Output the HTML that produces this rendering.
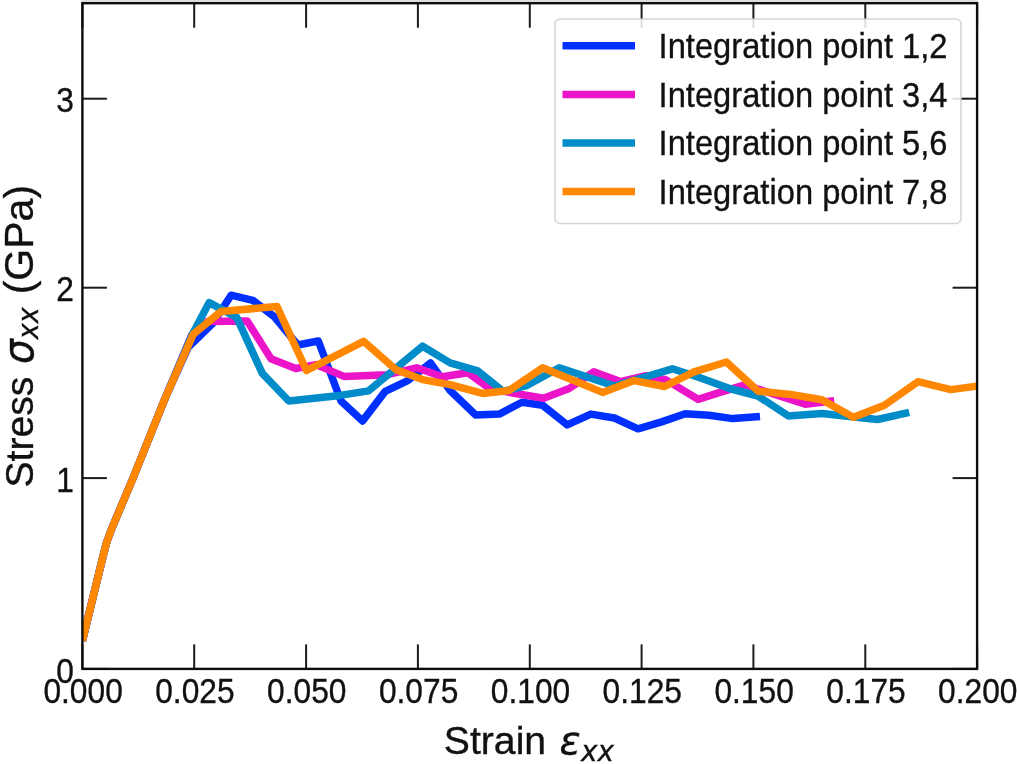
<!DOCTYPE html>
<html><head><meta charset="utf-8"><title>Stress-strain</title>
<style>
html,body{margin:0;padding:0;background:#fff;}
body{width:1017px;height:764px;overflow:hidden;}
svg{display:block;}
text{font-family:"Liberation Sans",sans-serif;fill:#111;stroke:#111;stroke-width:0.35px;}
.tk{font-size:35.9px;}
.lb{font-size:39.2px;}
.lg{font-size:35px;}
.m{font-family:"DejaVu Sans",sans-serif;font-style:italic;}
</style></head><body>
<svg width="1017" height="764" viewBox="0 0 1017 764">
<rect x="0" y="0" width="1017" height="764" fill="#fff"/>
<rect x="81.4" y="0" width="896.7" height="3.2" fill="#dddddd"/>
<clipPath id="ax"><rect x="82.4" y="3.2" width="894.7" height="665.7"/></clipPath>
<g clip-path="url(#ax)" fill="none" stroke-width="7.5" stroke-linejoin="round" stroke-linecap="butt">
<polyline stroke="#0030ff" points="82.4,640.8 103.2,555.5 106.6,542.5 111.6,529.0 132.8,478.6 164.4,400.0 188.2,347.2 213.5,322.5 231.1,295.2 252.8,300.3 274.0,316.4 297.7,345.0 318.3,341.0 341.0,401.0 362.6,420.9 385.2,391.4 407.8,380.6 430.5,362.9 450.1,390.5 475.7,415.0 499.3,414.1 521.9,402.3 542.6,405.2 567.2,424.9 590.8,414.1 614.4,418.0 638.0,428.8 661.6,421.9 685.2,413.7 709.0,415.2 732.8,418.6 760.0,416.4"/>
<polyline stroke="#ec14c8" points="82.4,640.8 103.2,555.5 106.6,542.5 111.6,529.0 132.8,478.6 164.4,400.0 191.8,334.8 207.5,321.6 247.2,320.9 271.0,358.7 295.7,368.5 316.0,364.6 343.9,376.4 387.2,374.7 416.7,367.8 442.3,376.7 467.8,372.8 489.5,388.5 517.0,393.8 543.6,398.3 569.2,388.5 593.7,371.8 620.3,381.6 645.9,375.7 665.5,379.6 698.0,399.3 720.0,392.4 744.8,384.8 805.3,404.2 834.2,400.8"/>
<polyline stroke="#008cc8" points="82.4,640.8 103.2,555.5 106.6,542.5 111.6,529.0 132.8,478.6 164.4,400.0 192.0,335.0 209.2,302.6 236.7,317.4 262.3,373.4 288.8,401.0 340.0,395.4 368.5,390.9 422.6,346.2 450.1,362.9 477.7,370.8 503.2,391.4 526.8,385.5 559.3,367.8 614.4,386.0 672.4,368.8 700.0,377.7 729.5,388.5 758.0,396.0 788.3,415.9 821.9,413.4 877.5,419.5 909.2,412.4"/>
<polyline stroke="#ff8800" points="82.4,640.8 103.2,555.5 106.6,542.5 111.6,529.0 132.8,478.6 164.4,400.0 193.4,334.1 221.0,311.5 277.0,306.5 306.5,370.5 363.6,341.3 396.0,369.8 422.6,379.6 450.1,384.6 482.6,393.4 509.1,390.5 542.6,367.8 602.6,392.4 634.1,380.6 664.5,386.5 694.0,371.8 726.4,362.0 758.3,391.2 790.5,394.4 821.9,399.8 853.4,417.3 884.4,405.3 917.9,381.7 950.9,389.6 976.9,386.1"/>
</g>
<g stroke="#1c1c1c" stroke-width="2.0">
<line x1="82.4" y1="668.9" x2="82.4" y2="644.4"/><line x1="82.4" y1="3.2" x2="82.4" y2="27.7"/>
<line x1="194.2" y1="668.9" x2="194.2" y2="644.4"/><line x1="194.2" y1="3.2" x2="194.2" y2="27.7"/>
<line x1="306.1" y1="668.9" x2="306.1" y2="644.4"/><line x1="306.1" y1="3.2" x2="306.1" y2="27.7"/>
<line x1="417.9" y1="668.9" x2="417.9" y2="644.4"/><line x1="417.9" y1="3.2" x2="417.9" y2="27.7"/>
<line x1="529.8" y1="668.9" x2="529.8" y2="644.4"/><line x1="529.8" y1="3.2" x2="529.8" y2="27.7"/>
<line x1="641.6" y1="668.9" x2="641.6" y2="644.4"/><line x1="641.6" y1="3.2" x2="641.6" y2="27.7"/>
<line x1="753.4" y1="668.9" x2="753.4" y2="644.4"/><line x1="753.4" y1="3.2" x2="753.4" y2="27.7"/>
<line x1="865.3" y1="668.9" x2="865.3" y2="644.4"/><line x1="865.3" y1="3.2" x2="865.3" y2="27.7"/>
<line x1="977.1" y1="668.9" x2="977.1" y2="644.4"/><line x1="977.1" y1="3.2" x2="977.1" y2="27.7"/>
<line x1="82.4" y1="668.9" x2="106.9" y2="668.9"/><line x1="977.1" y1="668.9" x2="952.6" y2="668.9"/>
<line x1="82.4" y1="478.1" x2="106.9" y2="478.1"/><line x1="977.1" y1="478.1" x2="952.6" y2="478.1"/>
<line x1="82.4" y1="287.7" x2="106.9" y2="287.7"/><line x1="977.1" y1="287.7" x2="952.6" y2="287.7"/>
<line x1="82.4" y1="98.7" x2="106.9" y2="98.7"/><line x1="977.1" y1="98.7" x2="952.6" y2="98.7"/>
</g>
<rect x="82.4" y="3.2" width="894.7" height="665.6999999999999" fill="none" stroke="#0d0d0d" stroke-width="2.4"/>
<text class="tk" transform="translate(83.1,702.5) scale(0.884,1)" text-anchor="middle">0.000</text>
<text class="tk" transform="translate(194.9,702.5) scale(0.884,1)" text-anchor="middle">0.025</text>
<text class="tk" transform="translate(306.8,702.5) scale(0.884,1)" text-anchor="middle">0.050</text>
<text class="tk" transform="translate(418.6,702.5) scale(0.884,1)" text-anchor="middle">0.075</text>
<text class="tk" transform="translate(530.5,702.5) scale(0.884,1)" text-anchor="middle">0.100</text>
<text class="tk" transform="translate(642.3,702.5) scale(0.884,1)" text-anchor="middle">0.125</text>
<text class="tk" transform="translate(754.1,702.5) scale(0.884,1)" text-anchor="middle">0.150</text>
<text class="tk" transform="translate(866.0,702.5) scale(0.884,1)" text-anchor="middle">0.175</text>
<text class="tk" transform="translate(977.8,702.5) scale(0.884,1)" text-anchor="middle">0.200</text>
<text class="tk" transform="translate(74.0,682.6) scale(0.884,1)" text-anchor="end">0</text>
<text class="tk" transform="translate(74.0,491.8) scale(0.884,1)" text-anchor="end">1</text>
<text class="tk" transform="translate(74.0,301.4) scale(0.884,1)" text-anchor="end">2</text>
<text class="tk" transform="translate(74.0,112.4) scale(0.884,1)" text-anchor="end">3</text>
<text class="lb" x="443.8" y="754">Strain</text>
<text class="lb m" x="559.5" y="754">ε</text>
<text class="m" font-size="27.8px" x="581" y="761">xx</text>
<text class="lb" transform="translate(33.4,487.6) rotate(-90)">Stress</text>
<text class="lb m" transform="translate(32.6,364) rotate(-90) scale(1,1.09)">σ</text>
<text class="m" font-size="27.8px" transform="translate(38.2,339.3) rotate(-90) scale(0.97,1)">xx</text>
<text font-size="41px" transform="translate(33.4,294.3) rotate(-90)">(GPa)</text>
<rect x="555" y="19" width="406" height="204.5" rx="5" ry="5" fill="#fff" fill-opacity="0.85" stroke="#cccccc" stroke-opacity="0.8" stroke-width="1.6"/>
<line x1="562.5" y1="45.7" x2="635" y2="45.7" stroke="#0030ff" stroke-width="7.5"/>
<text class="lg" transform="translate(658.6,58.1) scale(0.934,1)">Integration point 1,2</text>
<line x1="562.5" y1="94.4" x2="635" y2="94.4" stroke="#ec14c8" stroke-width="7.5"/>
<text class="lg" transform="translate(658.6,106.8) scale(0.934,1)">Integration point 3,4</text>
<line x1="562.5" y1="142.9" x2="635" y2="142.9" stroke="#008cc8" stroke-width="7.5"/>
<text class="lg" transform="translate(658.6,155.3) scale(0.934,1)">Integration point 5,6</text>
<line x1="562.5" y1="191.5" x2="635" y2="191.5" stroke="#ff8800" stroke-width="7.5"/>
<text class="lg" transform="translate(658.6,203.9) scale(0.934,1)">Integration point 7,8</text>
</svg></body></html>
